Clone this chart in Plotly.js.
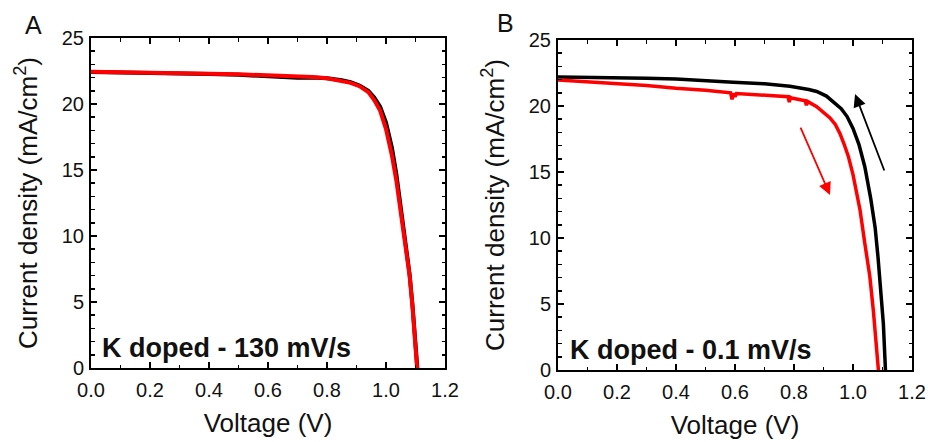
<!DOCTYPE html>
<html>
<head>
<meta charset="utf-8">
<script src="https://cdn.plot.ly/plotly-3.0.1.min.js"></script>
<style>html,body{margin:0;padding:0;background:#fff;}#chart{width:928px;height:442px;}</style>
</head>
<body>
<div id="chart"></div>
<script>
// Panel A (130 mV/s)
const voltA_black = [0, 0.1, 0.2, 0.3, 0.4, 0.5, 0.6, 0.65, 0.7, 0.75, 0.8, 0.85, 0.88, 0.91, 0.94, 0.96, 0.98, 1.0, 1.02, 1.035, 1.05, 1.065, 1.08, 1.09, 1.098, 1.105, 1.108];
const currA_black = [22.42, 22.4, 22.38, 22.33, 22.28, 22.22, 22.12, 22.0, 21.98, 22.0, 21.95, 21.8, 21.65, 21.4, 21.0, 20.5, 19.8, 18.6, 16.7, 14.7, 12.2, 9.8, 7.1, 4.7, 2.2, 0.2, -0.5];
const voltA_red = [0, 0.1, 0.2, 0.3, 0.4, 0.5, 0.6, 0.7, 0.75, 0.8, 0.85, 0.88, 0.91, 0.94, 0.96, 0.98, 1.0, 1.02, 1.035, 1.05, 1.065, 1.08, 1.09, 1.098, 1.104, 1.107];
const currA_red = [22.45, 22.43, 22.4, 22.35, 22.3, 22.25, 22.2, 22.1, 22.05, 21.95, 21.75, 21.6, 21.35, 20.9, 20.3, 19.5, 18.1, 16.1, 14.2, 11.8, 9.6, 7.0, 4.6, 2.1, 0.1, -0.5];
// Panel B (0.1 mV/s)
const voltB_black = [0, 0.1, 0.2, 0.3, 0.4, 0.5, 0.594, 0.7, 0.786, 0.85, 0.877, 0.91, 0.94, 0.96, 0.98, 1.0, 1.02, 1.04, 1.06, 1.075, 1.085, 1.095, 1.103, 1.108, 1.111];
const currB_black = [22.2, 22.18, 22.15, 22.1, 22.05, 21.95, 21.8, 21.68, 21.5, 21.25, 21.1, 20.75, 20.15, 19.8, 19.2, 18.3, 17.1, 15.4, 13.0, 10.8, 8.5, 6.0, 3.5, 1.0, -0.5];
const voltB_red = [0, 0.1, 0.2, 0.3, 0.4, 0.5, 0.585, 0.59, 0.594, 0.6, 0.605, 0.7, 0.78, 0.784, 0.788, 0.792, 0.838, 0.842, 0.846, 0.877, 0.9, 0.922, 0.94, 0.956, 0.97, 0.984, 1.0, 1.007, 1.024, 1.04, 1.057, 1.069, 1.08, 1.086, 1.088];
const currB_red = [21.97, 21.85, 21.7, 21.55, 21.35, 21.2, 21.0, 20.5, 20.95, 20.7, 20.95, 20.85, 20.7, 20.3, 20.65, 20.6, 20.4, 20.05, 20.35, 19.95, 19.55, 19.1, 18.6, 17.9, 17.1, 16.2, 14.8, 14.1, 12.1, 9.6, 7.1, 4.5, 2.0, 0.3, -0.5];

const fontFam = 'Arial, "Liberation Sans", sans-serif';
const W = 928, H = 442;

function axisX(domain) {
  return {
    domain: domain, range: [0, 1.2], dtick: 0.2, tickformat: '.1f',
    showline: true, linecolor: 'black', linewidth: 2, mirror: 'ticks',
    ticks: 'inside', ticklen: 6, tickwidth: 1.5, tickcolor: 'black',
    minor: {dtick: 0.1, ticks: 'inside', ticklen: 3.5, tickwidth: 1.5, tickcolor: 'black'},
    showgrid: false, zeroline: false, fixedrange: true,
    ticklabelstandoff: 3,
    tickfont: {family: fontFam, size: 20, color: '#111'},
    title: {text: 'Voltage (V)', font: {family: fontFam, size: 26, color: '#111'}, standoff: 14}
  };
}
function axisY(domain) {
  return {
    domain: domain, range: [0, 25], dtick: 5,
    showline: true, linecolor: 'black', linewidth: 2, mirror: 'ticks',
    ticks: 'inside', ticklen: 6, tickwidth: 1.5, tickcolor: 'black',
    minor: {dtick: 1, ticks: 'inside', ticklen: 3.5, tickwidth: 1.5, tickcolor: 'black'},
    showgrid: false, zeroline: false, fixedrange: true,
    ticklabelstandoff: 1,
    tickfont: {family: fontFam, size: 20, color: '#111'},
    title: {text: 'Current density (mA/cm<sup>2</sup>)', font: {family: fontFam, size: 26, color: '#111'}, standoff: 17}
  };
}

const traces = [
  {x: voltA_black, y: currA_black, xaxis: 'x', yaxis: 'y', mode: 'lines', line: {color: 'black', width: 4}, hoverinfo: 'none'},
  {x: voltA_red, y: currA_red, xaxis: 'x', yaxis: 'y', mode: 'lines', line: {color: '#ff0000', width: 4}, hoverinfo: 'none'},
  {x: voltB_black, y: currB_black, xaxis: 'x2', yaxis: 'y2', mode: 'lines', line: {color: 'black', width: 3.5}, hoverinfo: 'none'},
  {x: voltB_red, y: currB_red, xaxis: 'x2', yaxis: 'y2', mode: 'lines', line: {color: '#ff0000', width: 3.5}, hoverinfo: 'none'}
];

const layout = {
  width: W, height: H, showlegend: false,
  margin: {l: 0, r: 0, t: 0, b: 0},
  paper_bgcolor: 'white', plot_bgcolor: 'white',
  xaxis: Object.assign(axisX([91 / W, 445 / W]), {anchor: 'y'}),
  yaxis: Object.assign(axisY([(H - 368) / H, (H - 38) / H]), {anchor: 'x'}),
  xaxis2: Object.assign(axisX([558 / W, 912 / W]), {anchor: 'y2'}),
  yaxis2: Object.assign(axisY([(H - 370) / H, (H - 40) / H]), {anchor: 'x2'}),
  annotations: [
    {xref: 'paper', yref: 'paper', x: 33 / W, y: 1 - 25 / H, text: 'A', showarrow: false, xanchor: 'center', yanchor: 'middle', font: {family: fontFam, size: 25, color: '#111'}},
    {xref: 'paper', yref: 'paper', x: 505 / W, y: 1 - 23 / H, text: 'B', showarrow: false, xanchor: 'center', yanchor: 'middle', font: {family: fontFam, size: 25, color: '#111'}},
    {xref: 'x', yref: 'y', x: 0.03, y: 1.5, text: '<b>K doped - 130 mV/s</b>', showarrow: false, xanchor: 'left', yanchor: 'middle', font: {family: fontFam, size: 27, color: '#111'}},
    {xref: 'x2', yref: 'y2', x: 0.034, y: 1.5, text: '<b>K doped - 0.1 mV/s</b>', showarrow: false, xanchor: 'left', yanchor: 'middle', font: {family: fontFam, size: 27, color: '#111'}},
    {xref: 'x2', yref: 'y2', axref: 'x2', ayref: 'y2', x: 0.922, y: 13.26, ax: 0.82, ay: 18.48, text: '', showarrow: true, arrowhead: 2, arrowsize: 1.4, arrowwidth: 1.8, arrowcolor: '#ff0000'},
    {xref: 'x2', yref: 'y2', axref: 'x2', ayref: 'y2', x: 1.007, y: 20.9, ax: 1.108, ay: 15.0, text: '', showarrow: true, arrowhead: 2, arrowsize: 1.4, arrowwidth: 1.8, arrowcolor: 'black'}
  ]
};

Plotly.newPlot('chart', traces, layout, {staticPlot: true, displayModeBar: false});
</script>
</body>
</html>
